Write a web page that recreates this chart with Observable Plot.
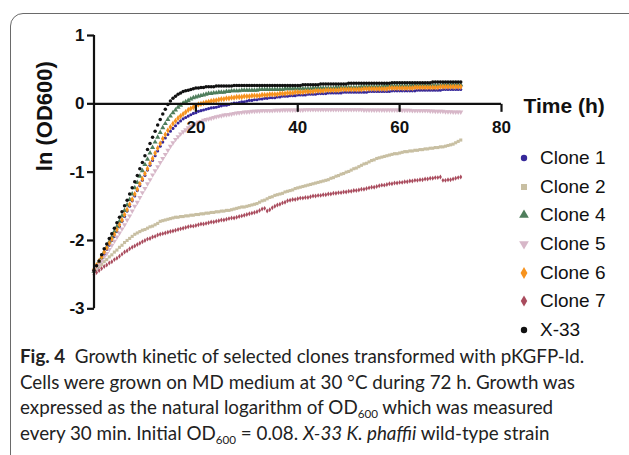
<!DOCTYPE html>
<html>
<head>
<meta charset="utf-8">
<script src="https://cdn.jsdelivr.net/npm/d3@7"></script>
<script src="https://cdn.jsdelivr.net/npm/@observablehq/plot@0.6"></script>
<style>
  html, body { margin: 0; padding: 0; background: #fff; }
  body { width: 629px; height: 455px; overflow: hidden; position: relative; }
  #frame { position: absolute; left: 10px; top: 13px; width: 700px; height: 520px;
           border: 1.3px solid #6a6a6a; border-radius: 13px; box-sizing: border-box; }
  #chart { position: absolute; left: 0; top: 0; }
  #legend { position: absolute; left: 517px; top: 144px; font-family: "Liberation Sans", Arial, sans-serif;
            font-size: 19px; color: #111; }
  #legend .row { height: 28.6px; display: flex; align-items: center; white-space: nowrap; }
  #legend svg { width: 14px; height: 14px; margin-right: 9px; }
  #caption { position: absolute; left: 20px; top: 343px; font-family: Lato, "Open Sans", sans-serif;
             font-size: 18.8px; line-height: 25.7px; color: #222; }
  #caption div { white-space: nowrap; }
  #caption sub { font-size: 0.62em; line-height: 0; vertical-align: -0.35em; }
</style>
</head>
<body>
<div id="frame"></div>
<div id="chart"></div>
<div id="legend"></div>
<div id="caption">
  <div><b>Fig. 4</b>&nbsp; Growth kinetic of selected clones transformed with pKGFP-ld.</div>
  <div>Cells were grown on MD medium at 30 °C during 72 h. Growth was</div>
  <div>expressed as the natural logarithm of OD<sub>600</sub> which was measured</div>
  <div>every 30 min. Initial OD<sub>600</sub> = 0.08. <i>X-33 K. phaffii</i> wild-type strain</div>
</div>
<script>
// ---- data: ln(OD600) read every 30 min from 0 h to 72 h ----
const hours = d3.range(0, 72.5, 0.5); // sampling times (every 30 min)

const clone1 = [
  -2.45,-2.39,-2.33,-2.26,-2.20,-2.13,-2.07,-2.00,-1.94,-1.87,
  -1.80,-1.72,-1.65,-1.57,-1.50,-1.42,-1.35,-1.27,-1.20,-1.12,
  -1.05,-0.97,-0.90,-0.83,-0.76,-0.69,-0.62,-0.56,-0.50,-0.45,
  -0.40,-0.36,-0.32,-0.28,-0.25,-0.22,-0.20,-0.18,-0.16,-0.14,
  -0.13,-0.11,-0.10,-0.09,-0.08,-0.07,-0.06,-0.055,-0.05,-0.04,
  -0.03,-0.02,-0.02,-0.01,0.00,0.01,0.01,0.02,0.03,0.03,
  0.04,0.05,0.05,0.06,0.06,0.07,0.07,0.08,0.08,0.09,
  0.09,0.09,0.10,0.10,0.11,0.11,0.11,0.12,0.12,0.12,
  0.13,0.13,0.13,0.13,0.14,0.14,0.14,0.14,0.15,0.15,
  0.15,0.15,0.16,0.16,0.16,0.16,0.16,0.16,0.17,0.17,
  0.17,0.17,0.17,0.17,0.17,0.17,0.17,0.17,0.18,0.18,
  0.18,0.18,0.18,0.18,0.18,0.18,0.18,0.19,0.19,0.19,
  0.19,0.19,0.19,0.19,0.19,0.19,0.19,0.20,0.20,0.20,
  0.20,0.20,0.20,0.20,0.20,0.20,0.20,0.21,0.21,0.21,
  0.21,0.21,0.21,0.21,0.21
];
const clone2 = [
  -2.45,-2.42,-2.38,-2.35,-2.31,-2.28,-2.24,-2.21,-2.17,-2.14,
  -2.10,-2.07,-2.03,-2.00,-1.97,-1.94,-1.91,-1.89,-1.87,-1.85,
  -1.84,-1.82,-1.80,-1.79,-1.77,-1.75,-1.72,-1.71,-1.70,-1.69,
  -1.68,-1.67,-1.66,-1.66,-1.65,-1.65,-1.64,-1.64,-1.63,-1.63,
  -1.62,-1.62,-1.61,-1.61,-1.60,-1.60,-1.59,-1.59,-1.58,-1.58,
  -1.57,-1.57,-1.56,-1.56,-1.55,-1.54,-1.53,-1.52,-1.51,-1.51,
  -1.50,-1.49,-1.48,-1.47,-1.46,-1.44,-1.42,-1.41,-1.39,-1.37,
  -1.36,-1.34,-1.33,-1.32,-1.31,-1.29,-1.28,-1.27,-1.26,-1.24,
  -1.23,-1.22,-1.21,-1.20,-1.19,-1.18,-1.17,-1.16,-1.15,-1.14,
  -1.13,-1.12,-1.11,-1.09,-1.08,-1.06,-1.05,-1.03,-1.02,-1.00,
  -0.99,-0.97,-0.95,-0.94,-0.92,-0.90,-0.88,-0.87,-0.85,-0.83,
  -0.82,-0.80,-0.79,-0.78,-0.77,-0.76,-0.75,-0.74,-0.73,-0.73,
  -0.72,-0.71,-0.70,-0.70,-0.69,-0.69,-0.68,-0.68,-0.67,-0.67,
  -0.66,-0.66,-0.65,-0.65,-0.64,-0.64,-0.63,-0.63,-0.62,-0.61,
  -0.60,-0.59,-0.57,-0.55,-0.53
];
const clone4 = [
  -2.45,-2.39,-2.32,-2.25,-2.17,-2.10,-2.02,-1.95,-1.87,-1.80,
  -1.72,-1.64,-1.56,-1.48,-1.40,-1.32,-1.23,-1.15,-1.06,-0.98,
  -0.89,-0.81,-0.72,-0.64,-0.56,-0.49,-0.42,-0.35,-0.29,-0.23,
  -0.18,-0.13,-0.09,-0.05,-0.02,0.01,0.03,0.05,0.07,0.09,
  0.10,0.11,0.12,0.13,0.14,0.15,0.15,0.16,0.16,0.17,
  0.17,0.17,0.18,0.18,0.19,0.19,0.19,0.19,0.20,0.20,
  0.20,0.20,0.20,0.20,0.20,0.21,0.21,0.21,0.21,0.21,
  0.21,0.21,0.21,0.21,0.21,0.22,0.22,0.22,0.22,0.22,
  0.22,0.22,0.22,0.22,0.22,0.22,0.23,0.23,0.23,0.23,
  0.23,0.23,0.23,0.23,0.23,0.24,0.24,0.24,0.24,0.24,
  0.24,0.24,0.24,0.24,0.24,0.25,0.25,0.25,0.25,0.25,
  0.25,0.25,0.25,0.25,0.26,0.26,0.26,0.26,0.26,0.26,
  0.26,0.26,0.26,0.26,0.26,0.27,0.27,0.27,0.27,0.27,
  0.27,0.27,0.27,0.27,0.27,0.27,0.27,0.28,0.28,0.28,
  0.28,0.28,0.28,0.28,0.28
];
const clone5 = [
  -2.45,-2.40,-2.35,-2.30,-2.24,-2.19,-2.13,-2.07,-2.01,-1.95,
  -1.89,-1.83,-1.77,-1.70,-1.64,-1.57,-1.50,-1.44,-1.37,-1.30,
  -1.24,-1.17,-1.11,-1.04,-0.98,-0.92,-0.86,-0.80,-0.74,-0.68,
  -0.62,-0.57,-0.52,-0.48,-0.44,-0.41,-0.38,-0.35,-0.33,-0.31,
  -0.29,-0.27,-0.26,-0.24,-0.23,-0.22,-0.21,-0.20,-0.19,-0.18,
  -0.175,-0.165,-0.16,-0.155,-0.15,-0.14,-0.135,-0.13,-0.125,-0.12,
  -0.12,-0.115,-0.11,-0.11,-0.105,-0.105,-0.10,-0.10,-0.10,-0.10,
  -0.10,-0.095,-0.095,-0.095,-0.09,-0.09,-0.09,-0.09,-0.09,-0.09,
  -0.09,-0.09,-0.09,-0.085,-0.085,-0.085,-0.085,-0.085,-0.085,-0.085,
  -0.085,-0.085,-0.085,-0.085,-0.085,-0.085,-0.085,-0.085,-0.085,-0.085,
  -0.085,-0.085,-0.085,-0.085,-0.085,-0.085,-0.09,-0.09,-0.09,-0.09,
  -0.09,-0.09,-0.09,-0.09,-0.09,-0.09,-0.09,-0.09,-0.09,-0.09,
  -0.09,-0.095,-0.095,-0.095,-0.095,-0.10,-0.10,-0.10,-0.10,-0.10,
  -0.10,-0.10,-0.105,-0.105,-0.11,-0.11,-0.11,-0.11,-0.115,-0.115,
  -0.115,-0.12,-0.12,-0.12,-0.12
];
const clone6 = [
  -2.42,-2.36,-2.30,-2.24,-2.17,-2.11,-2.04,-1.98,-1.91,-1.84,
  -1.77,-1.70,-1.62,-1.55,-1.47,-1.40,-1.32,-1.25,-1.17,-1.10,
  -1.02,-0.95,-0.87,-0.80,-0.72,-0.65,-0.58,-0.51,-0.45,-0.39,
  -0.34,-0.29,-0.25,-0.21,-0.18,-0.15,-0.12,-0.09,-0.07,-0.05,
  -0.03,-0.01,0.00,0.01,0.02,0.03,0.04,0.045,0.05,0.06,
  0.07,0.07,0.08,0.08,0.09,0.09,0.10,0.10,0.10,0.11,
  0.11,0.11,0.12,0.12,0.12,0.12,0.13,0.13,0.13,0.14,
  0.14,0.14,0.14,0.15,0.15,0.15,0.16,0.16,0.16,0.17,
  0.17,0.17,0.17,0.18,0.18,0.18,0.18,0.19,0.19,0.19,
  0.19,0.20,0.20,0.20,0.20,0.20,0.20,0.21,0.21,0.21,
  0.21,0.21,0.21,0.21,0.21,0.21,0.22,0.22,0.22,0.22,
  0.22,0.22,0.22,0.22,0.22,0.22,0.23,0.23,0.23,0.23,
  0.23,0.23,0.23,0.23,0.23,0.23,0.24,0.24,0.24,0.24,
  0.24,0.24,0.24,0.24,0.24,0.24,0.25,0.25,0.25,0.25,
  0.25,0.25,0.25,0.25,0.25
];
const clone7 = [
  -2.50,-2.47,-2.44,-2.41,-2.38,-2.36,-2.33,-2.31,-2.28,-2.26,
  -2.23,-2.20,-2.17,-2.15,-2.12,-2.10,-2.08,-2.06,-2.04,-2.02,
  -2.00,-1.98,-1.97,-1.95,-1.94,-1.92,-1.91,-1.90,-1.89,-1.88,
  -1.87,-1.86,-1.85,-1.84,-1.83,-1.82,-1.81,-1.80,-1.79,-1.79,
  -1.78,-1.77,-1.76,-1.76,-1.75,-1.74,-1.73,-1.73,-1.72,-1.71,
  -1.70,-1.70,-1.69,-1.68,-1.67,-1.67,-1.66,-1.65,-1.64,-1.63,
  -1.62,-1.61,-1.60,-1.59,-1.58,-1.56,-1.54,-1.53,-1.57,-1.55,
  -1.52,-1.50,-1.48,-1.47,-1.45,-1.44,-1.42,-1.41,-1.40,-1.40,
  -1.39,-1.38,-1.38,-1.37,-1.37,-1.36,-1.35,-1.35,-1.34,-1.34,
  -1.33,-1.33,-1.32,-1.32,-1.31,-1.31,-1.30,-1.30,-1.29,-1.29,
  -1.28,-1.28,-1.27,-1.27,-1.26,-1.25,-1.25,-1.24,-1.23,-1.22,
  -1.22,-1.21,-1.20,-1.19,-1.19,-1.18,-1.17,-1.17,-1.16,-1.16,
  -1.15,-1.15,-1.14,-1.14,-1.13,-1.13,-1.12,-1.12,-1.11,-1.11,
  -1.10,-1.10,-1.09,-1.09,-1.08,-1.08,-1.07,-1.12,-1.12,-1.11,
  -1.11,-1.10,-1.09,-1.08,-1.07
];
const x33 = [
  -2.44,-2.37,-2.30,-2.21,-2.12,-2.05,-1.97,-1.90,-1.82,-1.74,
  -1.66,-1.58,-1.49,-1.41,-1.32,-1.23,-1.14,-1.05,-0.95,-0.86,
  -0.76,-0.67,-0.58,-0.49,-0.40,-0.31,-0.23,-0.15,-0.08,-0.01,
  0.04,0.08,0.11,0.14,0.16,0.18,0.19,0.20,0.21,0.22,
  0.23,0.23,0.24,0.24,0.25,0.25,0.25,0.25,0.26,0.26,
  0.26,0.26,0.26,0.26,0.26,0.27,0.27,0.27,0.27,0.27,
  0.27,0.27,0.27,0.27,0.27,0.27,0.27,0.27,0.27,0.27,
  0.27,0.27,0.27,0.27,0.27,0.27,0.27,0.27,0.27,0.27,
  0.27,0.27,0.28,0.28,0.28,0.28,0.28,0.28,0.28,0.29,
  0.29,0.29,0.29,0.29,0.29,0.29,0.29,0.29,0.29,0.29,
  0.30,0.30,0.30,0.30,0.30,0.30,0.30,0.30,0.30,0.30,
  0.30,0.30,0.30,0.30,0.30,0.30,0.30,0.31,0.31,0.31,
  0.31,0.31,0.31,0.31,0.31,0.31,0.31,0.31,0.31,0.31,
  0.31,0.31,0.31,0.32,0.32,0.32,0.32,0.32,0.32,0.32,
  0.32,0.32,0.32,0.32,0.32
];

const seriesNames = ["Clone 1", "Clone 2", "Clone 4", "Clone 5", "Clone 6", "Clone 7", "X-33"];
const seriesValues = [clone1, clone2, clone4, clone5, clone6, clone7, x33];
const seriesColors = ["#36289a", "#c8bfa2", "#4f7e5c", "#d7b7c8", "#f7931e", "#a94b5d", "#111111"];
const xTicks = [20, 40, 60, 80];
const yTicks = [1, 0, -1, -2, -3];
const yTickLabels = ["1", "0", "-1", "-2", "-3"];

// ---- symbols ----
const triangleDown = {
  draw(context, size) {
    const y = -Math.sqrt(size / (Math.sqrt(3) * 3));
    context.moveTo(0, -2 * y);
    context.lineTo(-Math.sqrt(3) * y, y);
    context.lineTo(Math.sqrt(3) * y, y);
    context.closePath();
  }
};
const tickDown = { draw(c) { c.moveTo(0, 0); c.lineTo(0, 8); } };
const tickLeft = { draw(c) { c.moveTo(0, 0); c.lineTo(-7, 0); } };
const seriesSymbols = [d3.symbolCircle, d3.symbolSquare, d3.symbolTriangle, triangleDown, d3.symbolDiamond, d3.symbolDiamond, d3.symbolCircle];
const seriesR = [1.55, 1.75, 1.9, 1.9, 1.9, 1.5, 1.75];
const legendR = [3.2, 3.4, 3.6, 3.6, 3.6, 3.4, 3.2];

const tables = seriesValues.map((vals, i) => hours.map((t, j) => ({t, v: vals[j]})));
tables.forEach((tb, i) => { if (tb.length !== 145) console.error(seriesNames[i], tb.length); });

const AXIS_FONT = "Liberation Sans, Arial, Helvetica, sans-serif";
const bold = {fontWeight: "bold", fontSize: 17, fill: "#111", fontFamily: AXIS_FONT};

const plot = Plot.plot({
  width: 629,
  height: 345,
  marginLeft: 93.5,
  marginRight: 128,
  marginTop: 35,
  marginBottom: 36.7,
  style: {fontFamily: AXIS_FONT, background: "transparent", overflow: "visible"},
  x: {domain: [0, 80], axis: null},
  y: {domain: [-3, 1], axis: null},
  marks: [
    ...tables.map((tb, i) => Plot.dot(tb, {
      x: "t", y: "v", symbol: seriesSymbols[i], r: seriesR[i], fill: seriesColors[i], stroke: "none"
    })),
    Plot.ruleX([0], {y1: -3, y2: 1, stroke: "#111", strokeWidth: 2.2}),
    Plot.ruleY([0], {x1: 0, x2: 80, stroke: "#111", strokeWidth: 2.2}),
    Plot.dot(xTicks, {x: d => d, y: 0, symbol: tickDown, r: 1, fill: "none", stroke: "#111", strokeWidth: 2.2}),
    Plot.dot(yTicks, {x: 0, y: d => d, symbol: tickLeft, r: 1, fill: "none", stroke: "#111", strokeWidth: 2.2}),
    Plot.text(xTicks, {x: d => d, y: 0, text: d => String(d), dy: 23.5, ...bold}),
    Plot.text(yTicks, {x: 0, y: d => d, text: (d, i) => yTickLabels[i], textAnchor: "end", dx: -9.5, ...bold}),
    Plot.text(["Time (h)"], {x: 80, y: 0, text: d => d, textAnchor: "start", dx: 22, dy: 2.5, fontWeight: "bold", fontSize: 21, fill: "#111", fontFamily: AXIS_FONT}),
    Plot.text(["ln (OD600)"], {frameAnchor: "left", text: d => d, rotate: -90, dx: -49.5, dy: -1, fontWeight: "bold", fontSize: 22, fill: "#111", fontFamily: AXIS_FONT})
  ]
});
document.getElementById("chart").appendChild(plot);

// ---- legend ----
const legend = d3.select("#legend");
seriesNames.forEach((name, i) => {
  const row = legend.append("div").attr("class", "row");
  const svg = row.append("svg").attr("viewBox", "-7 -7 14 14");
  svg.append("path")
    .attr("d", d3.symbol(seriesSymbols[i], legendR[i] * legendR[i] * Math.PI)())
    .attr("fill", seriesColors[i]);
  row.append("span").text(name);
});
</script>
</body>
</html>
